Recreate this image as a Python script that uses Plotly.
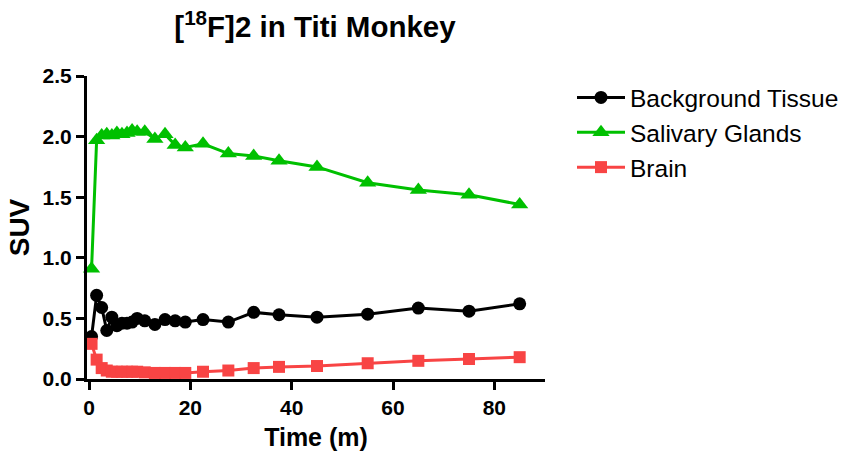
import plotly.graph_objects as go

time_min = [0.5, 1.5, 2.5, 3.5, 4.5, 5.5, 6.5, 7.5, 8.5, 9.5, 11, 13, 15, 17, 19,
            22.5, 27.5, 32.5, 37.5, 45, 55, 65, 75, 85]
background = [0.35, 0.69, 0.59, 0.40, 0.51, 0.44, 0.46, 0.46, 0.47, 0.50, 0.48, 0.45,
              0.49, 0.48, 0.47, 0.49, 0.47, 0.55, 0.53, 0.51, 0.535, 0.585, 0.56, 0.62]
salivary = [0.91, 1.97, 2.01, 2.02, 2.01, 2.03, 2.02, 2.03, 2.05, 2.04, 2.04, 1.98,
            2.02, 1.93, 1.91, 1.94, 1.86, 1.84, 1.80, 1.75, 1.62, 1.56, 1.52, 1.44]
brain = [0.29, 0.16, 0.09, 0.07, 0.06, 0.06, 0.06, 0.06, 0.06, 0.06, 0.055, 0.05,
         0.05, 0.05, 0.05, 0.06, 0.07, 0.09, 0.10, 0.107, 0.13, 0.15, 0.165, 0.18]

x_ticks = [0, 20, 40, 60, 80]
y_ticks = [0.0, 0.5, 1.0, 1.5, 2.0, 2.5]
y_tick_labels = ["0.0", "0.5", "1.0", "1.5", "2.0", "2.5"]

series = [
    ("Background Tissue", background, "#000000", "circle", 13),
    ("Salivary Glands", salivary, "#00C000", "triangle-up", 15),
    ("Brain", brain, "#F84444", "square", 12),
]

fig = go.Figure()
for name, vals, color, sym, size in series:
    fig.add_trace(go.Scatter(
        x=time_min, y=vals, name=name, mode="lines+markers",
        line=dict(color=color, width=3),
        marker=dict(symbol=sym, size=size, color=color),
        legendgroup=name, cliponaxis=False,
    ))

font_family = "Liberation Sans, Arial, sans-serif"
fig.update_layout(
    width=846, height=452,
    margin=dict(l=87, r=301, t=76, b=73, autoexpand=False),
    paper_bgcolor="white", plot_bgcolor="white",
    font=dict(family=font_family, color="black"),
    title=dict(text="<b>[<sup>18</sup>F]2 in Titi Monkey</b>", x=315 / 846, xanchor="center",
               y=1 - 27 / 452, yanchor="middle", font=dict(size=29.5)),
    showlegend=True,
    legend=dict(xref="container", x=572 / 846, xanchor="left",
                yref="container", y=1 - 75 / 452, yanchor="top",
                itemwidth=48,
                font=dict(size=24.5), tracegroupgap=0, bgcolor="rgba(0,0,0,0)"),
)
fig.update_xaxes(
    range=[-0.4, 90], tickmode="array", tickvals=x_ticks, automargin=False,
    showline=True, linecolor="black", linewidth=3,
    ticks="outside", ticklen=8, tickwidth=3, tickcolor="black",
    showgrid=False, zeroline=False,
    tickfont=dict(size=21, family=font_family, weight="bold"),
    title=dict(text="<b>Time (m)</b>", font=dict(size=25), standoff=11),
)
fig.update_yaxes(
    range=[0, 2.5], tickmode="array", tickvals=y_ticks, ticktext=y_tick_labels,
    automargin=False,
    showline=True, linecolor="black", linewidth=3,
    ticks="outside", ticklen=8, tickwidth=3, tickcolor="black",
    showgrid=False, zeroline=False,
    tickfont=dict(size=21, family=font_family, weight="bold"),
    title=dict(text="<b>SUV</b>", font=dict(size=28), standoff=5),
)

fig.write_html("out.html", config={"displayModeBar": False},
               post_script="document.body.style.margin='0';")
